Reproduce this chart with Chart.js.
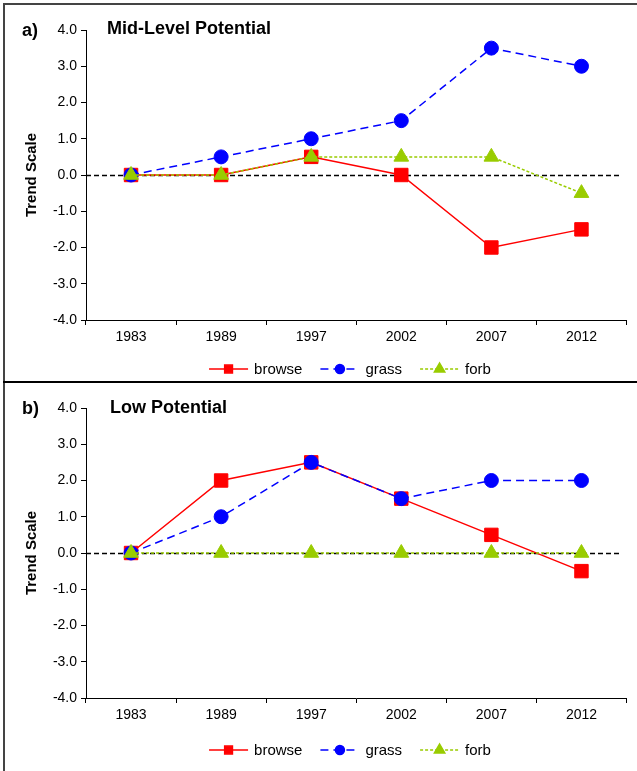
<!DOCTYPE html>
<html>
<head>
<meta charset="utf-8">
<script src="https://cdn.jsdelivr.net/npm/chart.js@4.4.1/dist/chart.umd.min.js"></script>
<style>
  body { margin: 0; background: #fff; width: 637px; height: 771px; overflow: hidden; position: relative;
         font-family: "Liberation Sans", Arial, sans-serif; }
  canvas { position: absolute; left: 0; }
  .line { position: absolute; background: #444; }
  .tag { position: absolute; font-weight: bold; font-size: 18px; line-height: 20px; color: #000; }
</style>
</head>
<body>
<canvas id="chartA" width="637" height="382" style="top:0"></canvas>
<canvas id="chartB" width="637" height="389" style="top:382px"></canvas>

<div class="line" style="left:3px;top:3px;width:634px;height:2px"></div>
<div class="line" style="left:3px;top:3px;width:2px;height:768px"></div>
<div class="line" style="left:3px;top:381px;width:634px;height:2px;background:#000"></div>

<div class="tag" style="left:22px;top:20px">a)</div>
<div class="tag" style="left:107px;top:18px">Mid-Level Potential</div>
<div class="tag" style="left:22px;top:398px">b)</div>
<div class="tag" style="left:110px;top:397px">Low Potential</div>

<script>
const years = ['1983', '1989', '1997', '2002', '2007', '2012'];

// a) Mid-Level Potential
const midBrowse = [0, 0, 0.5, 0, -2, -1.5];
const midGrass = [0, 0.5, 1, 1.5, 3.5, 3];
const midForb = [0, 0, 0.5, 0.5, 0.5, -0.5];

// b) Low Potential
const lowBrowse = [0, 2, 2.5, 1.5, 0.5, -0.5];
const lowGrass = [0, 1, 2.5, 1.5, 2, 2];
const lowForb = [0, 0, 0, 0, 0, 0];

const FONT = '"Liberation Sans", Arial, sans-serif';
Chart.defaults.font.family = FONT;
Chart.defaults.color = '#000';

// dashed line at 0 across the whole plot
const zeroLine = {
  id: 'zeroLine',
  beforeDatasetsDraw(chart) {
    const { ctx, chartArea: a, scales: { y } } = chart;
    const py = Math.round(y.getPixelForValue(0)) + 0.5;
    ctx.save();
    ctx.strokeStyle = '#000';
    ctx.lineWidth = 1.5;
    ctx.setLineDash([5, 3]);
    ctx.beginPath();
    ctx.moveTo(a.left, py);
    ctx.lineTo(a.right - 6, py);
    ctx.stroke();
    ctx.restore();
  }
};

// excel-like legend: line with marker in the middle
const lineLegend = {
  id: 'lineLegend',
  afterDraw(chart, args, opts) {
    const { ctx, chartArea: a } = chart;
    const y = a.bottom + opts.gap;
    ctx.save();
    ctx.font = '15px ' + FONT;
    const items = chart.data.datasets.map(ds => ({ ds, w: ctx.measureText(ds.label).width }));
    const lineW = 39, gapText = 6, gapItem = 18;
    const total = items.reduce((s, it) => s + lineW + gapText + it.w, 0) + gapItem * (items.length - 1);
    let x = 350 - total / 2;
    items.forEach(({ ds, w }) => {
      ctx.strokeStyle = ds.borderColor;
      ctx.lineWidth = ds.borderWidth;
      ctx.setLineDash(ds.borderDash || []);
      ctx.beginPath();
      ctx.moveTo(x, y);
      ctx.lineTo(x + lineW, y);
      ctx.stroke();
      ctx.setLineDash([]);
      ctx.fillStyle = ds.pointBackgroundColor;
      ctx.strokeStyle = ds.pointBorderColor;
      Chart.helpers.drawPoint(ctx, { pointStyle: ds.pointStyle, radius: ds.legendRadius, borderWidth: 1, rotation: 0 }, x + lineW / 2, y);
      ctx.fillStyle = '#000';
      ctx.textBaseline = 'middle';
      ctx.textAlign = 'left';
      ctx.fillText(ds.label, x + lineW + gapText, y + 1);
      x += lineW + gapText + w + gapItem;
    });
    ctx.restore();
  }
};

function series(label, data, color, style, radius, legendRadius, dash, order) {
  return {
    label, data, order,
    borderColor: color, backgroundColor: color, borderWidth: 1.5, borderDash: dash,
    pointStyle: style, pointRadius: radius, pointHoverRadius: radius, legendRadius,
    pointBackgroundColor: color, pointBorderColor: color, pointBorderWidth: 1,
    tension: 0, fill: false, clip: false
  };
}

function makeChart(id, browse, grass, forb, top, bottomPad, legendGap) {
  return new Chart(document.getElementById(id), {
    type: 'line',
    data: {
      labels: years,
      datasets: [
        series('browse', browse, '#ff0000', 'rect', 9.5, 5.5, [], 3),
        series('grass', grass, '#0000ff', 'circle', 7, 4.5, [8, 5], 2),
        series('forb', forb, '#99cc00', 'triangle', 8.5, 6, [3, 2], 1),
      ],
    },
    options: {
      responsive: false,
      animation: false,
      layout: { padding: { top, bottom: bottomPad, left: 0, right: 10 } },
      plugins: {
        legend: { display: false }, tooltip: { enabled: false }, title: { display: false },
        lineLegend: { gap: legendGap },
      },
      scales: {
        x: {
          offset: true,
          grid: { offset: true, drawOnChartArea: false, tickLength: 5, color: '#000' },
          border: { color: '#000', width: 1 },
          ticks: { color: '#000', font: { size: 14 }, padding: 4, maxRotation: 0 },
          afterFit: s => { s.height = 28; },
        },
        y: {
          min: -4, max: 4,
          ticks: { stepSize: 1, color: '#000', font: { size: 14 }, padding: 4, callback: v => Number(v).toFixed(1) },
          grid: { drawOnChartArea: false, tickLength: 5, color: '#000' },
          border: { color: '#000', width: 1 },
          title: { display: true, text: 'Trend Scale', color: '#000', font: { size: 15, weight: 'bold' }, padding: { top: 23, bottom: 0 } },
          afterFit: s => { s.width = 86; },
        },
      },
    },
    plugins: [zeroLine, lineLegend],
  });
}

makeChart('chartA', midBrowse, midGrass, midForb, 30, 382 - 320 - 28, 49);
makeChart('chartB', lowBrowse, lowGrass, lowForb, 26, 389 - 316 - 28, 52);
</script>
</body>
</html>
